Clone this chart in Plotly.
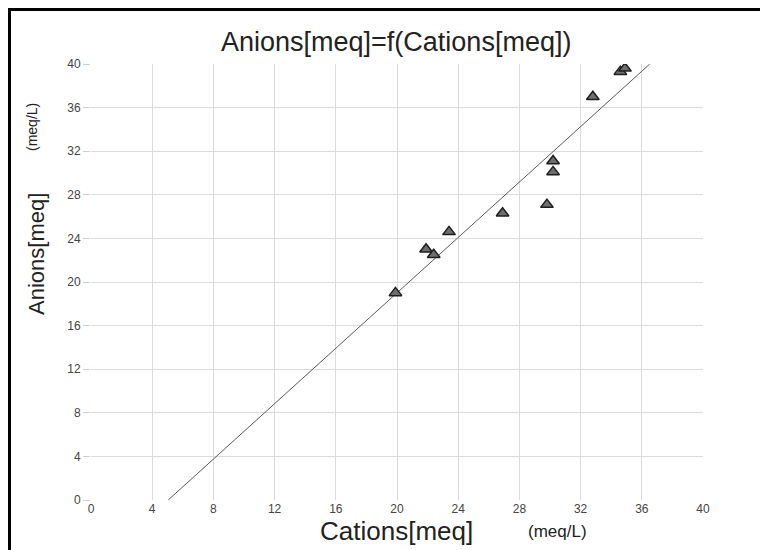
import numpy as np
import plotly.graph_objects as go

# Data
cations = [19.9, 21.9, 22.4, 23.4, 26.9, 29.8, 30.2, 30.2, 32.8, 34.6, 34.9]
anions = [19.0, 23.0, 22.5, 24.6, 26.3, 27.1, 30.1, 31.1, 37.0, 39.3, 39.6]
tick_vals = [0, 4, 8, 12, 16, 20, 24, 28, 32, 36, 40]

title_text = "Anions[meq]=f(Cations[meq])"
x_title = "Cations[meq]"
y_title = "Anions[meq]"
unit_text = "(meq/L)"

# least squares fit line, drawn across the y range 0..40
slope, intercept = np.polyfit(cations, anions, 1)
fit_y = np.array([tick_vals[0], tick_vals[-1]], dtype=float)
fit_x = (fit_y - intercept) / slope

FONT = "Liberation Sans, Arial, sans-serif"

fig = go.Figure()
fig.add_trace(go.Scatter(
    x=fit_x, y=fit_y, mode="lines",
    line=dict(color="#5a5a5a", width=1), hoverinfo="skip", showlegend=False))
fig.add_trace(go.Scatter(
    x=cations, y=anions, mode="markers",
    marker=dict(symbol="triangle-up", size=11, color="#6e6e6e",
                line=dict(color="#1e1e1e", width=1.5)),
    showlegend=False))

OFF = 8  # page body margin
L, R, T, B = 83, 73, 56, 58
W, H = 768, 550
pw, ph = W - L - R, H - T - B


def px(xp):
    return (xp - OFF - L) / pw


def py(yp):
    return (H - B - (yp - OFF)) / ph


axis_common = dict(
    range=[0, 40], tickvals=tick_vals, showgrid=True, gridcolor="#dcdcdc",
    gridwidth=1, zeroline=False, showline=False,
    tickfont=dict(family=FONT, size=12, color="#444"),
    tickcolor="#cfcfcf",
)
fig.update_xaxes(**axis_common, ticks="")
fig.update_yaxes(**axis_common, ticks="outside", ticklen=7)

annotations = [
    dict(text=title_text, x=px(396), y=py(42), xref="paper", yref="paper",
         showarrow=False, xanchor="center", yanchor="middle",
         font=dict(family=FONT, size=27, color="#222")),
    dict(text=x_title, x=px(396), y=py(531), xref="paper", yref="paper",
         showarrow=False, xanchor="center", yanchor="middle",
         font=dict(family=FONT, size=26, color="#222")),
    dict(text=unit_text, x=px(557), y=py(531), xref="paper", yref="paper",
         showarrow=False, xanchor="center", yanchor="middle",
         font=dict(family=FONT, size=17, color="#222")),
    dict(text=y_title, x=px(36), y=py(254), xref="paper", yref="paper",
         showarrow=False, xanchor="center", yanchor="middle", textangle=-90,
         font=dict(family=FONT, size=22, color="#222")),
    dict(text=unit_text, x=px(32), y=py(127), xref="paper", yref="paper",
         showarrow=False, xanchor="center", yanchor="middle", textangle=-90,
         font=dict(family=FONT, size=14, color="#222")),
]

shapes = [
    dict(type="rect", xref="paper", yref="paper",
         x0=px(9.5), x1=px(800), y0=py(9.5), y1=py(600),
         line=dict(color="#000", width=3), fillcolor="rgba(0,0,0,0)",
         layer="below"),
]

fig.update_layout(
    width=W, height=H,
    margin=dict(l=L, r=R, t=T, b=B),
    paper_bgcolor="white", plot_bgcolor="white",
    annotations=annotations, shapes=shapes,
    showlegend=False,
)

fig.write_html("out.html")
